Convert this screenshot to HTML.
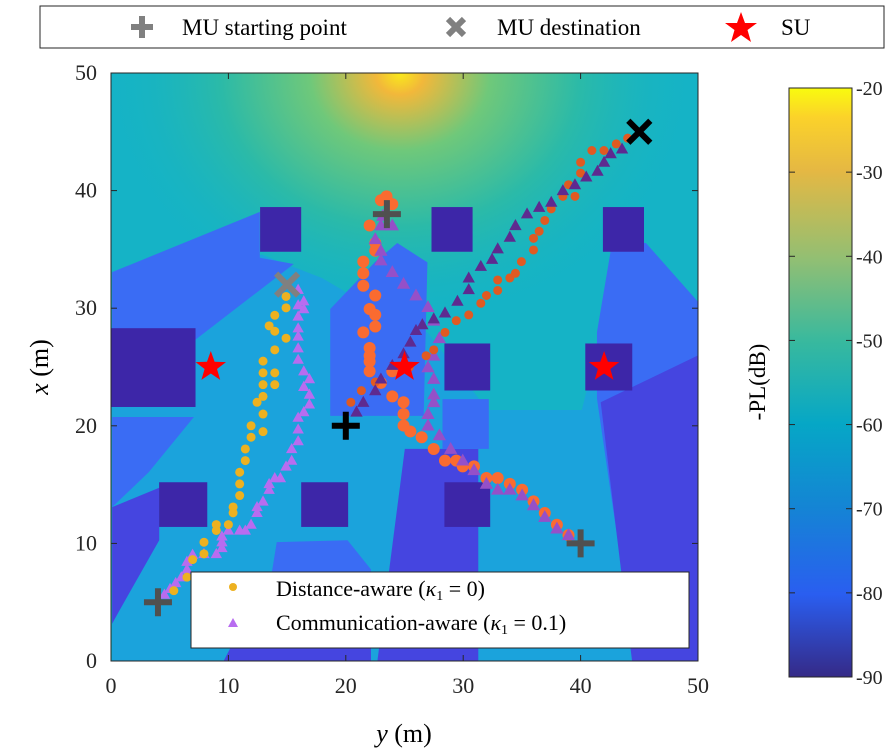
<!DOCTYPE html>
<html><head><meta charset="utf-8"><style>
html,body{margin:0;padding:0;background:#fff;width:885px;height:752px;overflow:hidden}
svg{display:block;font-family:"Liberation Serif",serif}
</style></head><body>
<svg id="chart" width="885" height="752" viewBox="0 0 885 752">
<defs>
<radialGradient id="glow" cx="400" cy="74" r="300" gradientUnits="userSpaceOnUse" gradientTransform="translate(400 74) scale(1 0.85) translate(-400 -74)">
<stop offset="0" stop-color="#f9e81c"/><stop offset="0.08" stop-color="#f2b83a"/><stop offset="0.3" stop-color="#6fc87a"/><stop offset="0.6" stop-color="#2bbaa8"/><stop offset="1" stop-color="#14b3c6" stop-opacity="0"/>
</radialGradient>
<linearGradient id="parula" x1="0" y1="1" x2="0" y2="0">
<stop offset="0" stop-color="#352a87"/><stop offset="0.14" stop-color="#2a5ef0"/><stop offset="0.29" stop-color="#1485d4"/><stop offset="0.43" stop-color="#06a7c6"/><stop offset="0.57" stop-color="#38b99e"/><stop offset="0.71" stop-color="#92bf73"/><stop offset="0.86" stop-color="#e5b843"/><stop offset="0.95" stop-color="#fbd22a"/><stop offset="1" stop-color="#f9fb0e"/>
</linearGradient>
<clipPath id="plotclip"><rect x="111" y="73" width="587" height="588"/></clipPath>
</defs>
<g clip-path="url(#plotclip)">
<rect x="111" y="73" width="587" height="588" fill="#15b3c6"/>
<rect x="111" y="73" width="587" height="588" fill="url(#glow)"/>
<g transform="translate(111,60.4) scale(0.3767,0.3885)">
<polygon fill="#1ba3dc" points="3,650 400,500 560,560 700,640 840,700 1000,900 1250,900 1300,700 1557,1000 1557,1600 3,1600"/>
<polygon fill="#3a6cf4" points="3,545 395,390 395,508 485,524 220,722 3,722"/>
<polygon fill="#3a6cf4" points="582,640 700,520 760,470 840,520 830,915 582,915"/>
<polygon fill="#3a6cf4" points="1330,470 1420,470 1557,620 1557,1600 1400,1600 1290,870 1290,700"/>
<polygon fill="#3a6cf4" points="3,918 220,918 100,1060 3,1150"/>
<polygon fill="#3a6cf4" points="440,1240 628,1235 690,1310 690,1600 380,1600"/>
<polygon fill="#4545e0" points="3,1150 128,1100 128,1235 20,1420 3,1450"/>
<polygon fill="#4545e0" points="420,1320 640,1320 690,1400 690,1600 270,1600"/>
<polygon fill="#4545e0" points="1300,880 1557,760 1557,1600 1390,1600"/>
<polygon fill="#4545e0" points="780,1000 975,1000 975,1600 700,1600"/>
<polygon fill="#3a6cf4" points="880,872 1003,872 1003,1000 880,1000"/>
</g>
</g>
<g id="buildings"></g>
<g id="series" clip-path="url(#plotclip)"></g>
<g id="markers"></g>
<rect x="111" y="73" width="587" height="588" fill="none" stroke="#262626" stroke-width="1"/>
<g id="axes" font-size="22" fill="#262626"></g>
<text x="404" y="742" text-anchor="middle" font-size="26"><tspan font-style="italic">y</tspan> (m)</text>
<text transform="translate(48,367) rotate(-90)" text-anchor="middle" font-size="26"><tspan font-style="italic">x</tspan> (m)</text>
<rect x="789" y="88" width="63" height="589" fill="url(#parula)" stroke="#262626" stroke-width="1"/>
<g id="cbticks" font-size="20" fill="#262626"></g>
<text transform="translate(765,382) rotate(-90)" text-anchor="middle" font-size="23">-PL(dB)</text>
<g>
<rect x="40" y="6" width="844" height="42" fill="#fff" stroke="#262626" stroke-width="1"/>
<path d="M131,27 h22 M142,16 v22" stroke="#808080" stroke-width="6"/>
<text x="182" y="35" font-size="23">MU starting point</text>
<path d="M448,19 l16,16 M464,19 l-16,16" stroke="#808080" stroke-width="6"/>
<text x="497" y="35" font-size="23">MU destination</text>
<polygon points="741,12 745,23 757,23 747.5,30 751,42 741,35 731,42 734.5,30 725,23 737,23" fill="#ff0000"/>
<text x="781" y="35" font-size="23">SU</text>
</g>
<g>
<rect x="191" y="572" width="498" height="76" fill="#fff" stroke="#262626" stroke-width="1"/>
<circle cx="233" cy="587" r="4" fill="#edb120"/>
<text x="276" y="596" font-size="22">Distance-aware (<tspan font-style="italic">κ</tspan><tspan font-size="14" dy="4">1</tspan><tspan dy="-4"> = 0)</tspan></text>
<polygon points="233,618 238,627 228,627" fill="#b86cf0"/>
<text x="276" y="630" font-size="22">Communication-aware (<tspan font-style="italic">κ</tspan><tspan font-size="14" dy="4">1</tspan><tspan dy="-4"> = 0.1)</tspan></text>
</g>
</svg>
<script>
const buildingsY = [[12.7,16.2],[27.3,30.8],[41.9,45.4],[0,7.2],[28.4,32.3],[40.4,44.4],[4.1,8.2],[16.2,20.2],[28.4,32.3]];
const buildingsX = [[34.8,38.6],[34.8,38.6],[34.8,38.6],[21.6,28.3],[23,27],[23,27],[11.4,15.2],[11.4,15.2],[11.4,15.2]];
const distY1 = [5.35,6.47,6.95,7.92,7.92,8.97,8.97,10.0,10.4,10.4,10.96,10.96,10.96,11.44,11.44,11.93,11.93,12.95,12.95,12.44,12.95,12.95,12.95,12.95,13.95,13.95,13.95,14.91,13.95,13.47,13.95,14.91,14.91];
const distX1 = [5.98,7.13,8.62,9.11,10.1,11.1,11.6,11.6,12.6,13.1,14.07,15.06,16.05,17.04,18.03,19.03,20.0,19.5,21.0,22.0,22.5,23.5,24.5,25.5,23.5,24.5,26.46,27.45,28.04,28.5,29.4,30.03,31.0];
const commY1 = [4.55,5.03,5.51,5.99,6.47,6.47,6.95,7.92,8.97,9.45,9.45,9.45,10.0,10.96,11.44,11.93,12.44,12.44,12.95,13.47,13.47,13.95,14.43,14.91,15.39,15.39,15.94,15.94,15.94,16.42,16.9,16.9,16.42,16.9,16.42,15.94,15.94,15.94,15.94,15.94,16.42,15.94,16.42,15.94];
const commX1 = [5.65,6.14,6.64,7.13,7.79,8.45,9.05,9.11,9.11,9.61,10.1,10.6,11.1,11.1,11.1,11.6,12.6,13.1,13.57,14.57,15.06,15.56,15.56,16.55,17.04,18.03,18.7,19.7,20.7,21.17,21.83,22.66,23.32,23.98,24.64,25.63,26.6,27.6,28.3,29.3,29.93,30.26,30.6,31.58];
const distY2 = [38.97,37.98,36.95,35.99,35.02,33.97,32.94,31.98,30.92,29.96,29.41,28.45,27.49,26.46,25.5,24.92,24.92,24.92,23.96,23.96,22.99,22.03,22.03,22.03,22.03,21.49,22.51,22.51,22.03,22.51,21.49,21.49,21.49,22.51,22.51,22.03,22.99,23.96,23.47];
const distX2 = [10.7,11.59,12.58,13.57,14.56,15.06,15.56,15.56,16.55,16.55,17.04,17.04,18.03,19.03,19.52,20.02,21.0,22.0,22.5,24.64,23.65,24.64,25.47,25.96,26.62,27.94,28.44,29.43,29.93,31.08,31.91,32.97,33.96,34.88,35.54,37.03,39.18,38.85,39.51];
const commY2 = [38.97,37.98,36.95,35.99,35.02,33.97,32.94,31.98,30.92,29.96,28.93,27.97,27.0,27.0,27.49,27.49,27.49,27.0,27.49,27.97,27.49,27.0,25.98,24.92,23.96,22.99,22.99,22.51,22.99,23.96,23.15];
const commX2 = [10.7,11.26,12.25,13.24,14.07,14.56,14.56,15.06,16.22,17.04,18.03,19.19,20.02,21.0,22.0,22.66,23.98,24.97,25.96,27.45,28.94,30.09,31.08,32.07,33.07,34.06,34.88,35.87,37.03,37.03,37.85];
const distY3 = [20.43,21.33,22.51,25.4,26.84,27.49,28.45,29.41,30.47,31.5,31.98,32.94,32.94,33.97,34.45,34.96,35.99,35.99,36.47,36.95,37.5,38.49,39.52,38.97,40.0,40.0,40.96,41.99,43.04,44.01];
const distX3 = [22.0,22.99,23.72,24.97,25.96,26.46,27.94,28.94,29.43,30.42,31.08,31.51,32.4,32.57,32.97,33.96,34.95,35.94,36.54,37.46,38.45,39.51,39.51,40.5,41.49,42.41,43.41,43.41,43.97,44.46];
const commY3 = [20.91,21.49,22.51,22.99,23.96,24.92,25.5,25.98,26.52,27.49,28.45,29.51,30.47,30.47,31.5,32.46,32.94,33.97,34.45,35.44,36.47,37.5,38.49,39.52,40.48,41.44,42.0,42.56,43.53];
const commX3 = [21.17,22.0,22.99,23.98,25.14,26.13,27.12,28.11,28.6,29.1,29.6,30.59,31.58,32.57,33.56,34.16,35.05,36.04,37.03,38.02,38.58,39.01,40.0,40.5,41.16,41.65,42.41,43.14,43.54];
const startY = [4,23.5,40,20], startX = [5,38,10,20];
const destY = [15,45], destX = [32,45];
const suY = [8.5,25,42], suX = [25,25,25];
const axisTicks = [0,10,20,30,40,50];
const cbTicks = [-20,-30,-40,-50,-60,-70,-80,-90];

const NS = 'http://www.w3.org/2000/svg';
const sx = v => 111 + v * 11.74;
const sy = v => 661 - v * 11.76;
const cby = v => 88 + (-20 - v) * (589 / 70);
function mk(tag, attrs, parent) { const e = document.createElementNS(NS, tag); for (const k in attrs) e.setAttribute(k, attrs[k]); parent.appendChild(e); return e; }

const bg = document.getElementById('buildings');
buildingsY.forEach((b, i) => {
  const r = mk('rect', {x: sx(b[0]), y: sy(buildingsX[i][1]), width: sx(b[1]) - sx(b[0]), height: sy(buildingsX[i][0]) - sy(buildingsX[i][1]), fill: '#3d26a8'}, bg);
  
  
});

const sg = document.getElementById('series');
function dots(ys, xs, r, color, name) {
  ys.forEach((y, i) => {
    const c = mk('circle', {cx: sx(y), cy: sy(xs[i]), r: r, fill: color}, sg);
    
    
  });
}
function tris(ys, xs, s, color, name) {
  ys.forEach((y, i) => {
    const cx = sx(y), cy = sy(xs[i]);
    const t = mk('polygon', {points: `${cx},${cy - s} ${cx + s * 0.95},${cy + s * 0.7} ${cx - s * 0.95},${cy + s * 0.7}`, fill: color}, sg);
    
    
  });
}
tris(commY1, commX1, 6, '#b86cf0', 'comm-aware-point-1');
dots(distY1, distX1, 4.5, '#edb120', 'dist-aware-point-1');
dots(distY2, distX2, 6, '#fa6b30', 'dist-aware-point-2');
tris(commY2, commX2, 7, '#9550c8', 'comm-aware-point-2');
dots(distY3, distX3, 4.5, '#e05a22', 'dist-aware-point-3');
tris(commY3, commX3, 6.5, '#5e2a90', 'comm-aware-point-3');

const mg = document.getElementById('markers');
startY.forEach((y, i) => {
  const c = i === 3 ? '#000' : '#505050';
  const p = mk('path', {d: `M${sx(y) - 14},${sy(startX[i])} h28 M${sx(y)},${sy(startX[i]) - 14} v28`, stroke: c, 'stroke-width': 6}, mg);
  
  
});
destY.forEach((y, i) => {
  const c = i === 1 ? '#000' : '#808080';
  const x0 = sx(y), y0 = sy(destX[i]);
  const p = mk('path', {d: `M${x0 - 11},${y0 - 11} l22,22 M${x0 + 11},${y0 - 11} l-22,22`, stroke: c, 'stroke-width': 6}, mg);
  
  
});
suY.forEach((y, i) => {
  const cx = sx(y), cy = sy(suX[i]);
  let pts = [];
  for (let k = 0; k < 10; k++) { const a = -Math.PI / 2 + k * Math.PI / 5; const r = k % 2 ? 6.5 : 16; pts.push((cx + r * Math.cos(a)).toFixed(1) + ',' + (cy + r * Math.sin(a)).toFixed(1)); }
  const s = mk('polygon', {points: pts.join(' '), fill: '#ff0000'}, mg);
  
  
});

const ag = document.getElementById('axes');
axisTicks.forEach(t => {
  const tx = mk('text', {x: sx(t), y: 693, 'text-anchor': 'middle'}, ag); tx.textContent = t;
  
  
  const ty = mk('text', {x: 97, y: sy(t) + 7, 'text-anchor': 'end'}, ag); ty.textContent = t;
  
  
  mk('line', {x1: sx(t), x2: sx(t), y1: 661, y2: 655, stroke: '#262626'}, ag);
  mk('line', {x1: sx(t), x2: sx(t), y1: 73, y2: 79, stroke: '#262626'}, ag);
  mk('line', {x1: 111, x2: 117, y1: sy(t), y2: sy(t), stroke: '#262626'}, ag);
  mk('line', {x1: 698, x2: 692, y1: sy(t), y2: sy(t), stroke: '#262626'}, ag);
});
const cg = document.getElementById('cbticks');
cbTicks.forEach(t => {
  const tx = mk('text', {x: 856, y: cby(t) + 7}, cg); tx.textContent = t;
  
  
  mk('line', {x1: 846, x2: 852, y1: cby(t), y2: cby(t), stroke: '#262626'}, cg);
  mk('line', {x1: 789, x2: 795, y1: cby(t), y2: cby(t), stroke: '#262626'}, cg);
});
</script>
</body></html>
